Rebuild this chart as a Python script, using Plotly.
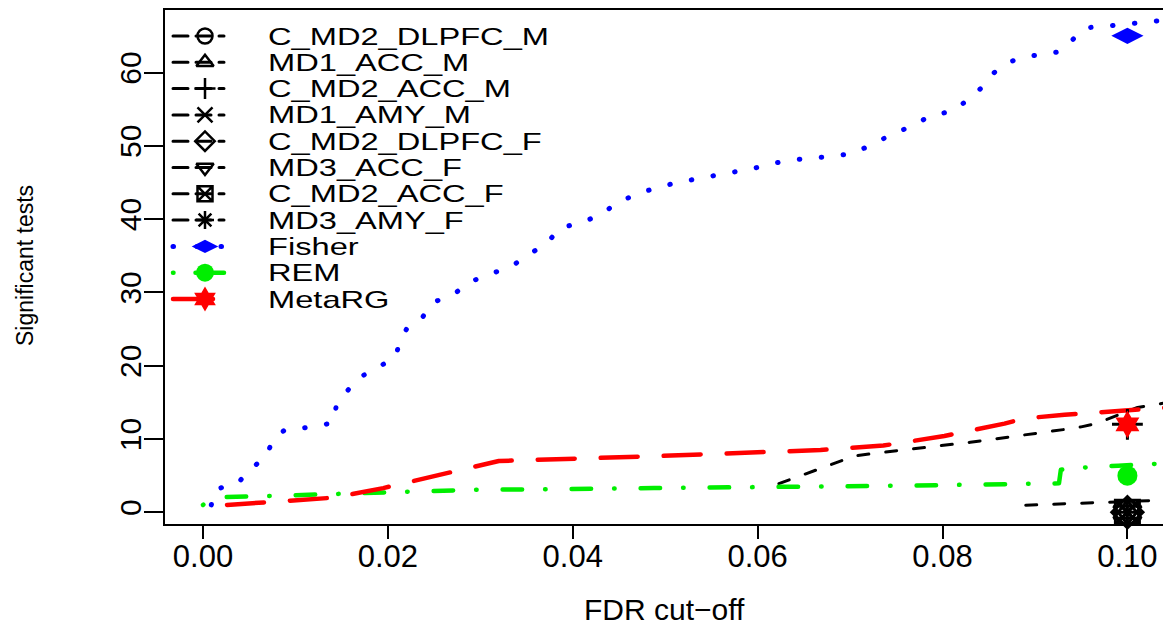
import plotly.graph_objects as go

# ---------------- data ----------------
fdr_cutoff = 0.1
x_ticks = [0.00, 0.02, 0.04, 0.06, 0.08, 0.10]
y_ticks = [0, 10, 20, 30, 40, 50, 60]

study_names = ["C_MD2_DLPFC_M", "MD1_ACC_M", "C_MD2_ACC_M", "MD1_AMY_M",
               "C_MD2_DLPFC_F", "MD3_ACC_F", "C_MD2_ACC_F", "MD3_AMY_F"]
study_counts_at_cutoff = [0, 0, 12, 0, 0, 0, 0, 0]

meta_names = ["Fisher", "REM", "MetaRG"]
meta_counts_at_cutoff = [65, 5, 12]

# study curves that are visible in the picture
c_md2_acc_m_fdr = [0.0623, 0.0705, 0.0737, 0.0830, 0.0932, 0.0950, 0.0966, 0.0985, 0.1011, 0.1045]
c_md2_acc_m_count = [3.9, 7.7, 8.2, 9.55, 11.3, 11.65, 12.1, 13.0, 14.3, 15.0]
c_md2_acc_f_fdr = [0.0890, 0.0925, 0.0960, 0.1000, 0.1045]
c_md2_acc_f_count = [0.96, 1.1, 1.27, 1.5, 1.68]

fisher_fdr = [0.0009, 0.0013, 0.0038, 0.0051, 0.0068, 0.0075, 0.0088, 0.0115, 0.0141, 0.0144,
              0.0155, 0.0168, 0.0188, 0.0208, 0.0213, 0.0221, 0.0238, 0.0248, 0.0271, 0.0288,
              0.0311, 0.0334, 0.0353, 0.0373, 0.0385, 0.0410, 0.0431, 0.0447, 0.0473, 0.0500,
              0.0530, 0.0565, 0.0595, 0.0621, 0.0647, 0.0674, 0.0701, 0.0723, 0.0744, 0.0767,
              0.0787, 0.0813, 0.0828, 0.0844, 0.0856, 0.0873, 0.0898, 0.0925, 0.0940, 0.0955,
              0.0983, 0.1009, 0.1036, 0.1045]
fisher_count = [1.0, 3.1, 4.0, 5.9, 7.5, 9.7, 11.2, 11.6, 12.2, 14.4,
                16.4, 18.3, 19.7, 21.1, 23.3, 25.2, 26.7, 28.6, 29.7, 31.4,
                32.5, 33.6, 35.2, 36.8, 38.7, 39.6, 40.6, 42.2, 43.6, 44.6,
                45.4, 46.2, 46.9, 47.7, 48.2, 48.5, 48.9, 50.1, 51.5, 52.7,
                54.1, 54.8, 56.4, 58.1, 60.0, 61.5, 62.3, 62.8, 64.4, 66.1,
                66.4, 66.8, 67.1, 67.2]

rem_fdr = [0.0, 0.0010, 0.0065, 0.0139, 0.0212, 0.0288, 0.0488, 0.0540, 0.0650, 0.0770,
           0.0870, 0.0926, 0.0928, 0.0943, 0.0990, 0.1045]
rem_count = [1.0, 2.05, 2.2, 2.5, 2.8, 3.05, 3.3, 3.4, 3.5, 3.65,
             3.8, 3.95, 5.8, 6.05, 6.35, 6.7]

metarg_fdr = [0.0026, 0.0142, 0.0195, 0.0240, 0.0320, 0.0488, 0.0560, 0.0668, 0.0736,
              0.0802, 0.0867, 0.0888, 0.0932, 0.0999, 0.1045]
metarg_count = [1.0, 2.0, 3.3, 4.6, 7.0, 7.65, 7.95, 8.5, 9.1,
                10.4, 12.1, 12.8, 13.3, 13.8, 14.3]

# ---------------- styles ----------------
FONT = "Liberation Sans, Arial, sans-serif"
study_symbols = ["circle-open", "triangle-up-open", "cross-thin-open", "x-thin-open",
                 "diamond-open", "triangle-down-open", "square-x-open", "asterisk-open"]
study_curves = {"C_MD2_ACC_M": (c_md2_acc_m_fdr, c_md2_acc_m_count),
                "C_MD2_ACC_F": (c_md2_acc_f_fdr, c_md2_acc_f_count)}
meta_curves = [(fisher_fdr, fisher_count), (rem_fdr, rem_count), (metarg_fdr, metarg_count)]
meta_colors = ["#0000ff", "#00ee00", "#ff0000"]
meta_dash = ["0.5px,21.5px", "0.5px,26px,19.5px,23px", "37px,26px"]
meta_width = [5, 4.5, 4.5]
meta_symbol = ["diamond-wide", "circle", "hexagram"]
meta_msize = [23, 20, 21]
meta_leg_dash = ["0.5px,23.5px", "0.5px,22px,30px", "40px,30px"]
meta_leg_msize = [19, 18, 19]

fig = go.Figure()

# study lines
for name in study_names:
    if name in study_curves:
        fx, fy = study_curves[name]
        fig.add_trace(go.Scatter(x=fx, y=fy, mode="lines", showlegend=False,
                                 line=dict(color="black", width=3, dash="11px,17px")))
# meta lines
for (fx, fy), col, dsh, w in zip(meta_curves, meta_colors, meta_dash, meta_width):
    fig.add_trace(go.Scatter(x=fx, y=fy, mode="lines", showlegend=False,
                             line=dict(color=col, width=w, dash=dsh)))

# markers at the cutoff
for name, sym, val in zip(study_names, study_symbols, study_counts_at_cutoff):
    fig.add_trace(go.Scatter(x=[fdr_cutoff], y=[val], mode="markers", showlegend=False,
                             cliponaxis=False,
                             marker=dict(symbol=sym, size=22 if val > 0 else 24, color="black",
                                         line=dict(color="black", width=3))))
for col, sym, ms, val in zip(meta_colors, meta_symbol, meta_msize, meta_counts_at_cutoff):
    fig.add_trace(go.Scatter(x=[fdr_cutoff], y=[val], mode="markers", showlegend=False,
                             marker=dict(symbol=sym, size=ms, color=col, line=dict(width=0))))

# ---------------- hand-made legend (pixel overlay axes) ----------------
leg_x0, leg_x1, leg_xm, leg_text_x = 173, 224, 205, 266
leg_y0, leg_dy = 36, 26.3
all_names = study_names + meta_names
annotations = []
for i, name in enumerate(all_names):
    yy = leg_y0 + i * leg_dy
    if i < len(study_names):
        col, dsh, w = "black", "15px,8px", 3
        msym, msz, mcol = study_symbols[i], 15, "black"
        mline = dict(color="black", width=2.5)
    else:
        j = i - len(study_names)
        col, dsh, w = meta_colors[j], meta_leg_dash[j], meta_width[j]
        msym, msz, mcol = meta_symbol[j], meta_leg_msize[j], meta_colors[j]
        mline = dict(width=0)
    fig.add_trace(go.Scatter(x=[leg_x0, leg_x1], y=[yy, yy], xaxis="x2", yaxis="y2",
                             mode="lines", showlegend=False, hoverinfo="skip",
                             line=dict(color=col, width=w, dash=dsh)))
    fig.add_trace(go.Scatter(x=[leg_xm], y=[yy], xaxis="x2", yaxis="y2",
                             mode="markers", showlegend=False, hoverinfo="skip",
                             marker=dict(symbol=msym, size=msz, color=mcol, line=mline)))
    annotations.append(dict(x=leg_text_x, y=yy, xref="x2", yref="y2", text=name,
                            showarrow=False, xanchor="left", yanchor="middle",
                            font=dict(family=FONT, size=24, color="black")))

# axis titles
annotations.append(dict(x=0.501, y=-0.1673, xref="paper", yref="paper", text="FDR cut\u2212off",
                        showarrow=False, xanchor="center", yanchor="middle",
                        font=dict(family=FONT, size=30, color="black")))
annotations.append(dict(x=-0.1403, y=0.5039, xref="paper", yref="paper", text="Significant tests",
                        showarrow=False, xanchor="center", yanchor="middle", textangle=-90,
                        font=dict(family=FONT, size=23, color="black")))

fig.update_layout(
    width=1163, height=627,
    margin=dict(l=165, r=0, t=10, b=103, pad=0),
    paper_bgcolor="white", plot_bgcolor="white",
    showlegend=False,
    annotations=annotations,
    xaxis=dict(range=[-0.00411, 0.10385], tickvals=x_ticks,
               ticktext=[f"{v:.2f}" for v in x_ticks],
               ticks="outside", ticklen=13, tickwidth=2, tickcolor="black",
               showline=True, linewidth=2, linecolor="black", mirror=True,
               showgrid=False, zeroline=False, ticklabelstandoff=-9,
               tickfont=dict(family=FONT, size=31, color="black")),
    yaxis=dict(range=[-1.6, 68.53], tickvals=y_ticks,
               ticks="outside", ticklen=19, tickwidth=2, tickcolor="black",
               showline=True, linewidth=2, linecolor="black", mirror=False,
               showgrid=False, zeroline=False, tickangle=-90, ticklabelstandoff=-9,
               tickfont=dict(family=FONT, size=30, color="black")),
    xaxis2=dict(overlaying="x", anchor="y2", range=[165, 1163], visible=False, fixedrange=True),
    yaxis2=dict(overlaying="y", anchor="x2", range=[524, 10], visible=False, fixedrange=True),
)

# round line caps like the R device; legend labels are drawn horizontally wide as in the reference
legend_js_names = "[" + ",".join('"%s"' % n for n in all_names) + "]"
post = (
    "var s=document.createElement('style');"
    "s.textContent='.js-line{stroke-linecap:round;stroke-linejoin:round;}';"
    "document.head.appendChild(s);"
    "var names=" + legend_js_names + ";"
    "document.querySelectorAll('.annotation-text').forEach(function(t){"
    "if(names.indexOf(t.textContent)>=0){"
    "t.style.transformBox='fill-box';t.style.transformOrigin='0% 50%';"
    "t.style.transform='scaleX(1.36)';}});"
)
fig.write_html("out.html", post_script=post)
